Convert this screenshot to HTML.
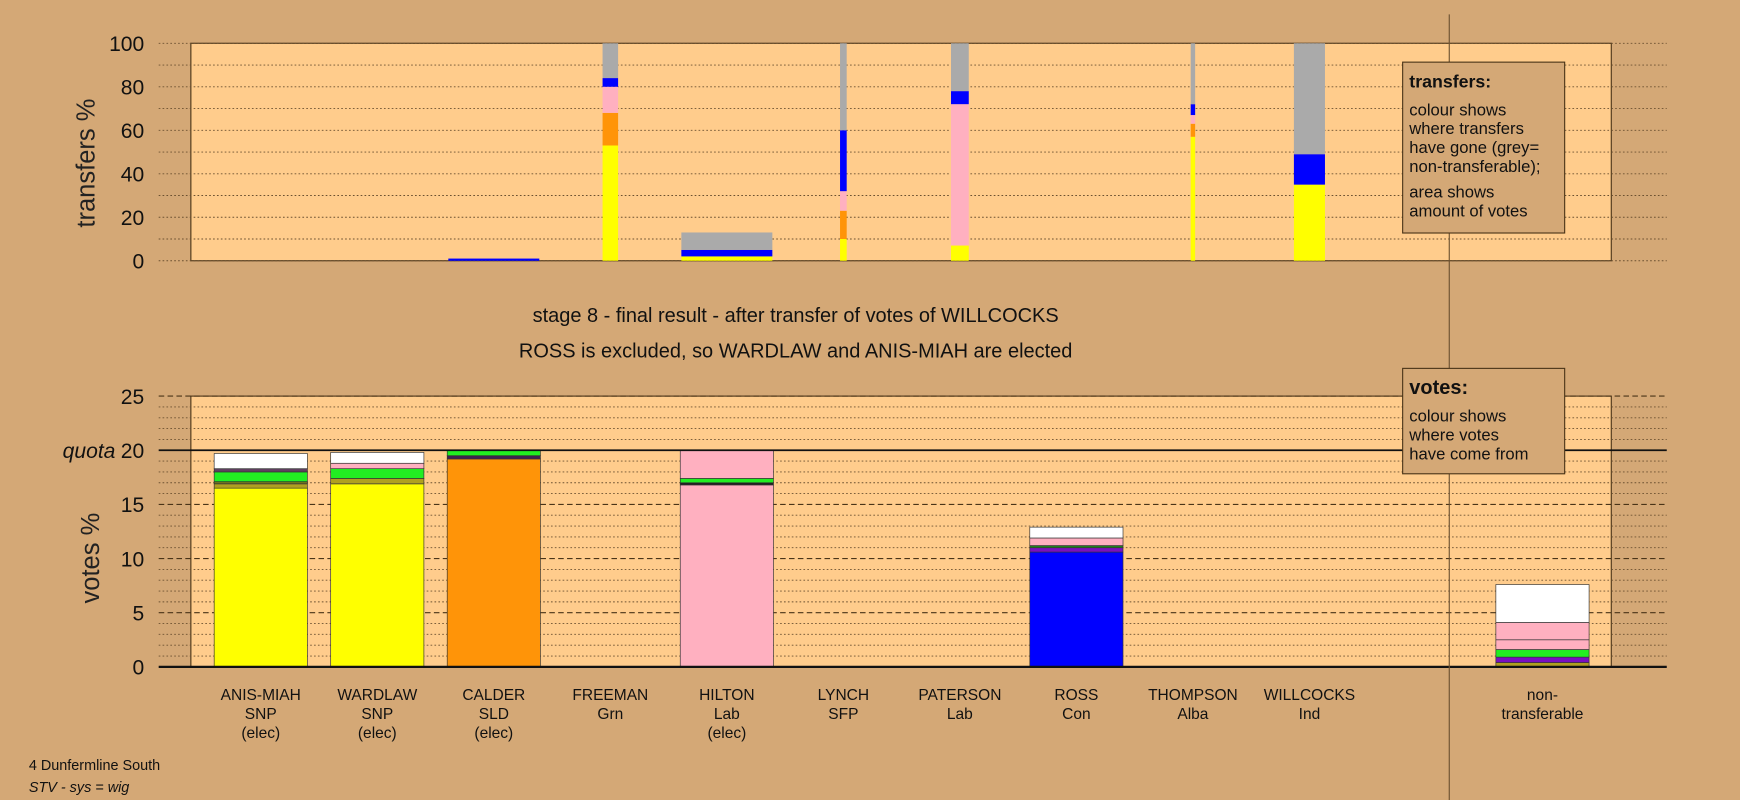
<!DOCTYPE html>
<html><head><meta charset="utf-8"><title>STV stage 8 - Dunfermline South</title>
<style>
html,body{margin:0;padding:0;background:#d4a876;}
svg{display:block;font-family:"Liberation Sans Narrow","Liberation Sans",sans-serif;}
</style></head>
<body>
<svg id="chart" width="1740" height="800" viewBox="0 0 1568 721" preserveAspectRatio="none" xmlns="http://www.w3.org/2000/svg">
<rect x="0" y="0" width="1568" height="721" fill="#d4a876"/>
<rect x="172" y="39" width="1280" height="196" fill="#ffcc8c" stroke="#4a3418" stroke-width="1"/>
<rect x="172" y="357" width="1280" height="244" fill="#ffcc8c" stroke="#4a3418" stroke-width="1"/>
<g id="topGrid"></g>
<g id="botGrid"></g>
<g id="topBars"></g>
<g id="botBars"></g>
<g id="labels"></g>
<line x1="1306" y1="13" x2="1306" y2="721" stroke="#6b5030" stroke-width="1"/>
<text x="0" y="0" transform="translate(85,147) rotate(-90)" text-anchor="middle" font-size="23" font-family="Liberation Sans, sans-serif" fill="#222">transfers %</text>
<text x="0" y="0" transform="translate(89,503) rotate(-90)" text-anchor="middle" font-size="23" font-family="Liberation Sans, sans-serif" fill="#222">votes %</text>
<text x="717" y="290" text-anchor="middle" font-size="18" fill="#111">stage 8 - final result - after transfer of votes of WILLCOCKS</text>
<text x="717" y="322" text-anchor="middle" font-size="18" fill="#111">ROSS is excluded, so WARDLAW and ANIS-MIAH are elected</text>
<g>
<rect x="1264" y="56" width="146" height="154" fill="#d4a876" stroke="#4a3418" stroke-width="1"/>
<text x="1270" y="79" font-size="16" font-weight="bold" fill="#111">transfers:</text>
<text font-size="15" fill="#111"><tspan x="1270" y="104">colour shows</tspan><tspan x="1270" y="121">where transfers</tspan><tspan x="1270" y="138">have gone (grey=</tspan><tspan x="1270" y="155">non-transferable);</tspan><tspan x="1270" y="178">area shows</tspan><tspan x="1270" y="195">amount of votes</tspan></text>
</g>
<g>
<rect x="1264" y="332" width="146" height="95" fill="#d4a876" stroke="#4a3418" stroke-width="1"/>
<text x="1270" y="355" font-size="18" font-weight="bold" fill="#111">votes:</text>
<text font-size="15" fill="#111"><tspan x="1270" y="380">colour shows</tspan><tspan x="1270" y="397">where votes</tspan><tspan x="1270" y="414">have come from</tspan></text>
</g>
<text x="26" y="694" font-size="13" fill="#111">4 Dunfermline South</text>
<text x="26" y="714" font-size="13" font-style="italic" fill="#111">STV - sys = wig</text>
</svg>
<script>
const candNames = ["ANIS-MIAH","WARDLAW","CALDER","FREEMAN","HILTON","LYNCH","PATERSON","ROSS","THOMPSON","WILLCOCKS","non-"];
const candParties = ["SNP","SNP","SLD","Grn","Lab","SFP","Lab","Con","Alba","Ind","transferable"];
const candElected = [true,true,true,false,true,false,false,false,false,false,false];
const topTicks = [0,20,40,60,80,100];
const botTicks = [0,5,10,15,20,25];
const quota = 20;
// transfer bars: width (relative votes) and segment sizes (% stacked)
const topWidths = [0,0,82,14,82,6,16,0,4,28,0];
const topSegColors = [
  [],[],
  ["#0000ff"],
  ["#ffff00","#ff9408","#ffb0c0","#0000ff","#aaaaaa"],
  ["#ffff00","#0000ff","#aaaaaa"],
  ["#ffff00","#ff9408","#ffb0c0","#0000ff","#aaaaaa"],
  ["#ffff00","#ffb0c0","#0000ff","#aaaaaa"],
  [],
  ["#ffff00","#ff9408","#ffb0c0","#0000ff","#aaaaaa"],
  ["#ffff00","#0000ff","#aaaaaa"],
  []
];
const topSegValues = [
  [],[],
  [1],
  [53,15,12,4,16],
  [2,3,8],
  [10,13,9,28,40],
  [7,65,6,22],
  [],
  [57,6,4,5,28],
  [35,14,51],
  []
];
// vote bars: segment sizes (% of votes) and colours
const botSegColors = [
  ["#ffff00","#b0a020","#707020","#22ee22","#604060","#ffffff"],
  ["#ffff00","#b0a020","#22ee22","#ffb0c0","#ffffff"],
  ["#ff9408","#402050","#22ee22"],
  [],
  ["#ffb0c0","#202020","#22ee22","#ffb0c0"],
  [],[],
  ["#0000ff","#7a10c0","#208020","#ffb0c0","#ffffff"],
  [],[],
  ["#b0a020","#7a10c0","#22ee22","#ffb0c0","#ffb0c0","#ffffff"]
];
const botSegValues = [
  [16.5,0.4,0.2,0.9,0.3,1.4],
  [16.9,0.5,0.9,0.5,1.0],
  [19.2,0.3,0.5],
  [],
  [16.8,0.2,0.4,2.6],
  [],[],
  [10.6,0.4,0.2,0.7,1.0],
  [],[],
  [0.4,0.5,0.7,0.9,1.6,3.5]
];

const NS="http://www.w3.org/2000/svg";
function mk(tag,attrs,parent){const e=document.createElementNS(NS,tag);for(const k in attrs)e.setAttribute(k,attrs[k]);parent.appendChild(e);return e;}
const xCenter = i => i<10 ? 235+105*i : 1390;
const yTop = v => 235 - v*(196/100);
const yBot = v => 601 - v*(244/25);
const barW = 84;

const tg=document.getElementById('topGrid');
for(let v=0;v<=100;v+=10){
  const l=mk('line',{x1:143,x2:1502,y1:yTop(v),y2:yTop(v),stroke:'#6b5030','stroke-width':0.8,'stroke-dasharray':'1.5,2'},tg);
  
  
}
topTicks.forEach(v=>{
  const t=mk('text',{x:130,y:yTop(v)+7,'text-anchor':'end','font-size':19,fill:'#111'},tg);
  t.textContent=v;
  
  
});
const bg=document.getElementById('botGrid');
for(let v=0;v<=25;v++){
  if(v%5===0) continue;
  const l=mk('line',{x1:143,x2:1502,y1:yBot(v),y2:yBot(v),stroke:'#6b5030','stroke-width':0.8,'stroke-dasharray':'1.5,2'},bg);
  
  
}
botTicks.forEach(v=>{
  if(v===0||v===quota) return;
  const l=mk('line',{x1:143,x2:1502,y1:yBot(v),y2:yBot(v),stroke:'#4a3418','stroke-width':1,'stroke-dasharray':'5,3'},bg);
  
  
});
botTicks.forEach(v=>{
  const t=mk('text',{x:130,y:yBot(v)+7,'text-anchor':'end','font-size':19,fill:'#111'},bg);
  t.textContent=v;
  
  
});
const ql=mk('text',{x:104,y:yBot(quota)+7,'text-anchor':'end','font-size':19,'font-style':'italic',fill:'#111'},bg);
ql.textContent='quota';



const tb=document.getElementById('topBars');
topSegValues.forEach((segs,i)=>{
  let acc=0;const w=topWidths[i];
  segs.forEach((s,j)=>{
    const r=mk('rect',{x:xCenter(i)-w/2,y:yTop(acc+s),width:w,height:yTop(acc)-yTop(acc+s),fill:topSegColors[i][j]},tb);
    
    
    acc+=s;
  });
});

const bb=document.getElementById('botBars');
botSegValues.forEach((segs,i)=>{
  let acc=0;
  segs.forEach((s,j)=>{
    const r=mk('rect',{x:xCenter(i)-barW/2,y:yBot(acc+s),width:barW,height:yBot(acc)-yBot(acc+s),fill:botSegColors[i][j],stroke:'#333','stroke-width':0.6},bb);
    
    
    acc+=s;
  });
});
const base=mk('line',{x1:143,x2:1502,y1:yBot(0),y2:yBot(0),stroke:'#111','stroke-width':2},bb);


const qline=mk('line',{x1:143,x2:1502,y1:yBot(quota),y2:yBot(quota),stroke:'#111','stroke-width':1.6},bb);



const lb=document.getElementById('labels');
candNames.forEach((n,i)=>{
  const t=mk('text',{x:xCenter(i),'text-anchor':'middle','font-size':14,fill:'#111'},lb);
  
  
  const lines=[n,candParties[i]];
  if(candElected[i]) lines.push('(elec)');
  lines.forEach((s,k)=>{const ts=mk('tspan',{x:xCenter(i),y:631+k*17},t);ts.textContent=s;});
});
</script>
</body></html>
